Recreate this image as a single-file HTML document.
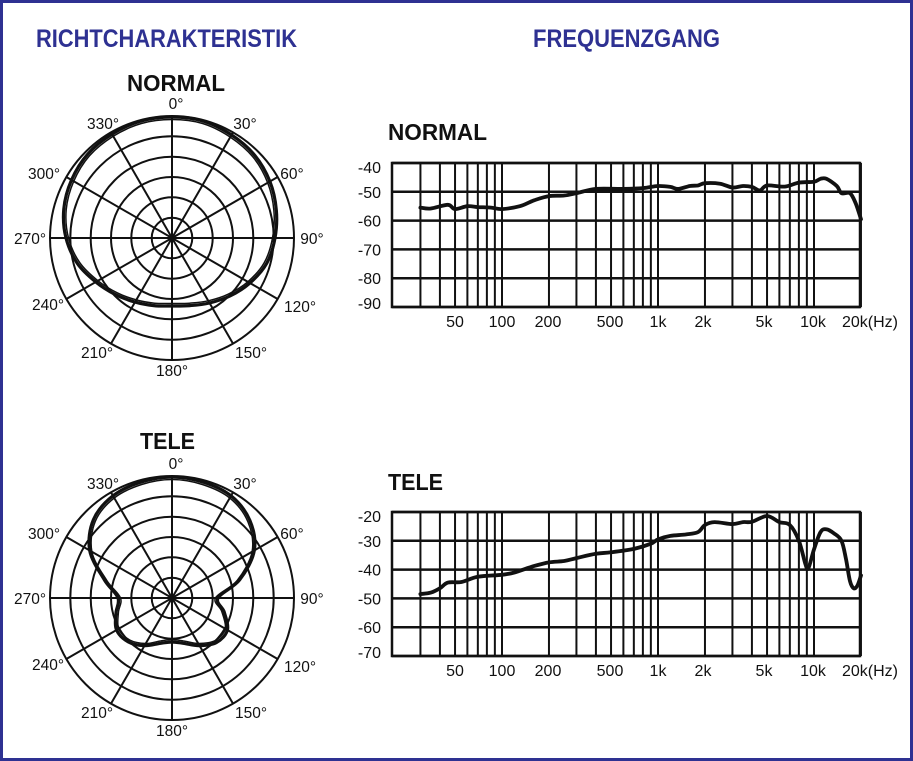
<!DOCTYPE html>
<html><head><meta charset="utf-8">
<style>
html,body{margin:0;padding:0;background:#fff;}
svg{display:block;}
text{font-family:"Liberation Sans",sans-serif;}
</style></head>
<body>
<svg id="s" width="913" height="761" viewBox="0 0 913 761" xmlns="http://www.w3.org/2000/svg">
<rect x="1.5" y="1.5" width="910" height="758" fill="#fff" stroke="#2e3192" stroke-width="3"/>
<text x="36" y="47" font-size="25" font-weight="bold" fill="#2e3192" textLength="261" lengthAdjust="spacingAndGlyphs">RICHTCHARAKTERISTIK</text>
<text x="533" y="47" font-size="25" font-weight="bold" fill="#2e3192" textLength="187" lengthAdjust="spacingAndGlyphs">FREQUENZGANG</text>
<text x="127" y="91" font-size="23" font-weight="bold" fill="#111" textLength="98" lengthAdjust="spacingAndGlyphs">NORMAL</text>
<text x="140" y="449" font-size="23" font-weight="bold" fill="#111" textLength="55" lengthAdjust="spacingAndGlyphs">TELE</text>
<text x="388" y="140" font-size="23" font-weight="bold" fill="#111" textLength="99" lengthAdjust="spacingAndGlyphs">NORMAL</text>
<text x="388" y="490" font-size="23" font-weight="bold" fill="#111" textLength="55" lengthAdjust="spacingAndGlyphs">TELE</text>
<g id="g"></g>
</svg>
<script>
const NS="http://www.w3.org/2000/svg";const g=document.getElementById('g');
function el(t,a,txt){const e=document.createElementNS(NS,t);for(const k in a)e.setAttribute(k,a[k]);if(txt!==undefined)e.textContent=txt;g.appendChild(e);return e;}
function cr(pts,closed){let d='';const n=pts.length;const P=i=>closed?pts[(i+n)%n]:pts[Math.max(0,Math.min(n-1,i))];
d='M'+pts[0][0].toFixed(1)+','+pts[0][1].toFixed(1);const m=closed?n:n-1;
for(let i=0;i<m;i++){const p0=P(i-1),p1=P(i),p2=P(i+1),p3=P(i+2);
const c1=[p1[0]+(p2[0]-p0[0])/6,p1[1]+(p2[1]-p0[1])/6],c2=[p2[0]-(p3[0]-p1[0])/6,p2[1]-(p3[1]-p1[1])/6];
d+='C'+c1[0].toFixed(1)+','+c1[1].toFixed(1)+' '+c2[0].toFixed(1)+','+c2[1].toFixed(1)+' '+p2[0].toFixed(1)+','+p2[1].toFixed(1);}
return d+(closed?'Z':'');}
function polar(cx,cy,radii,dy){
 for(let i=1;i<=6;i++)el('circle',{cx:cx,cy:cy,r:(122*i/6).toFixed(1),fill:'none',stroke:'#111','stroke-width':2});
 for(let a=0;a<180;a+=30){const r=a*Math.PI/180;el('line',{x1:cx+122*Math.sin(r),y1:cy-122*Math.cos(r),x2:cx-122*Math.sin(r),y2:cy+122*Math.cos(r),stroke:'#111','stroke-width':2});}
 const L=[['0°',176,104],['330°',103,124],['30°',245,124],['300°',44,174],['60°',292,174],['270°',30,239],['90°',312,239],['240°',48,305],['120°',300,307],['210°',97,353],['150°',251,353],['180°',172,371]];
 L.forEach(l=>el('text',{x:l[1],y:l[2]+dy+5,'font-size':15.5,'text-anchor':'middle',fill:'#111'},l[0]));
 const pts=radii.map((r,i)=>{const a=i*15*Math.PI/180;return [cx+r*Math.sin(a),cy-r*Math.cos(a)];});
 el('path',{d:cr(pts,true),fill:'none',stroke:'#111','stroke-width':3.2});
 const pts2=radii.map((r,i)=>{const a=i*15*Math.PI/180;const rr=r-2.5;return [cx+rr*Math.sin(a),cy-rr*Math.cos(a)];});
 el('path',{d:cr(pts2,true),fill:'none',stroke:'#111','stroke-width':1.5});
}
polar(172,238,[121,121,119,117,113,108,103,98,90,82,75,70,68,70,74,80,88,98,106,112,116,119,120,121],0);
polar(172,598,[121,120,118,110,95,70,46,54,64,63,55,47,44,47,55,62,64,58,54,70,95,111,118,120],360);
function fx(f){return 502+156*Math.log10(f/100);}
function chart(top,lbls,data){
 const bot=top+144,L=392,R=860;
 const fr=[30,40,50,60,70,80,90,100,200,300,400,500,600,700,800,900,1000,2000,3000,4000,5000,6000,7000,8000,9000,10000,20000];
 el('rect',{x:L,y:top,width:R-L,height:bot-top,fill:'none',stroke:'#111','stroke-width':2.5});
 fr.forEach(f=>el('line',{x1:fx(f),y1:top,x2:fx(f),y2:bot,stroke:'#111','stroke-width':2}));
 for(let i=0;i<6;i++){const y=top+i*28.8;el('line',{x1:L,y1:y,x2:R,y2:y,stroke:'#111','stroke-width':2.5});
  el('text',{x:381,y:y+(i==0?10:i==5?2:6),'font-size':16,'text-anchor':'end',fill:'#111'},lbls[i]);}
 [['50',455],['100',502],['200',548],['500',610],['1k',658],['2k',703],['5k',764],['10k',813],['20k(Hz)',870]].forEach(t=>
  el('text',{x:t[1],y:bot+20,'font-size':16,'text-anchor':'middle',fill:'#111'},t[0]));
 const top0=parseInt(lbls[0]);
 const pts=data.map(d=>[fx(d[0]),top+(top0-d[1])*2.88]);
 el('path',{d:cr(pts,false),fill:'none',stroke:'#111','stroke-width':3.8,'stroke-linejoin':'round','stroke-linecap':'round'});
}
chart(163,['-40','-50','-60','-70','-80','-90'],[[30,-55.5],[35,-55.8],[45,-54.5],[50,-56],[60,-55],[70,-55.3],[85,-55.5],[100,-56],[130,-55],[160,-53],[200,-51.5],[250,-51.3],[300,-50.5],[400,-49],[600,-49],[800,-48.7],[1000,-48],[1200,-48.3],[1350,-49],[1600,-48],[1800,-47.8],[2000,-47],[2500,-47.2],[3000,-48.5],[3500,-48],[4000,-48.3],[4500,-49.5],[5000,-47.8],[6500,-48.2],[8000,-46.8],[10000,-46.5],[11000,-45.5],[12000,-45.5],[14000,-48],[15000,-50.5],[17000,-50.5],[18500,-54],[20000,-59.5]]);
chart(512,['-20','-30','-40','-50','-60','-70'],[[30,-48.5],[35,-48],[40,-46.5],[45,-44.5],[55,-44.3],[70,-42.5],[100,-41.8],[120,-41],[160,-38.8],[200,-37.5],[250,-37],[300,-36],[400,-34.5],[500,-34],[700,-32.8],[900,-31],[1000,-29.5],[1200,-28.3],[1500,-27.8],[1800,-27],[2000,-24.5],[2300,-23.5],[3000,-24.2],[3500,-23.5],[4000,-23.4],[5000,-21.4],[6000,-23.5],[7000,-24.5],[8000,-30],[8800,-38],[9200,-39.5],[10000,-33],[11000,-27],[12000,-26],[13500,-27.5],[15000,-30],[16000,-36],[17000,-44],[18000,-46.5],[19000,-45.5],[20000,-42]]);
</script>
</body></html>
